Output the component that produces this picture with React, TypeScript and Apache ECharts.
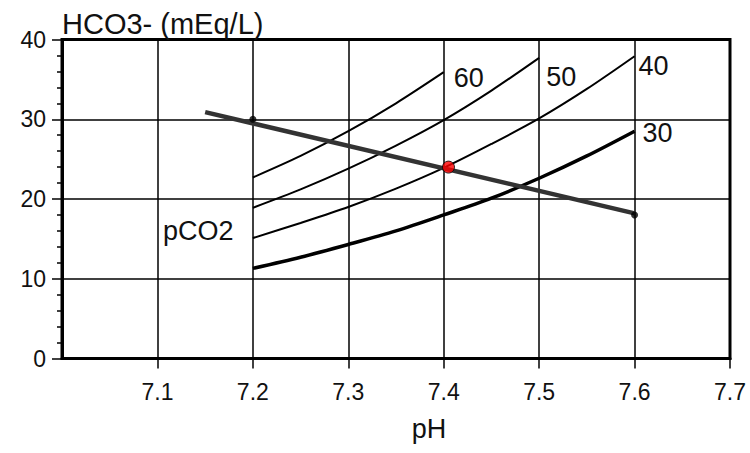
import React, { useEffect, useRef } from "react";
import * as echarts from "echarts";

// pH positions of the pCO2 isopleths
const pHPoints = [7.2, 7.25, 7.3, 7.35, 7.4, 7.45, 7.5, 7.55, 7.6];
// HCO3- (mEq/L) read along each isopleth
const pco2_30 = [11.3, 12.7, 14.3, 16.0, 18.0, 20.1, 22.6, 25.4, 28.5];
const pco2_40 = [15.1, 17.0, 19.0, 21.3, 23.9, 26.9, 30.1, 33.8, 37.9];
const pco2_50 = [18.9, 21.2, 23.8, 26.7, 29.9, 33.6, 37.7];
const pco2_60 = [22.7, 25.4, 28.5, 32.0, 35.9];
const isoLabels = ["30", "40", "50", "60"];

// buffer line
const bufferLine = [
  [7.15, 30.9],
  [7.6, 18.2],
];
const bufferDots = [
  [7.2, 30],
  [7.6, 18],
];
const normalPoint = [[7.405, 24]];

const FONT = "'Liberation Sans', Arial, Helvetica, sans-serif";

function pairs(ys: number[]) {
  return ys.map((y, i) => [pHPoints[i], y]);
}

export default function App() {
  const ref = useRef<HTMLDivElement>(null);
  useEffect(() => {
    if (!ref.current) return;
    const chart = echarts.init(ref.current, null, { renderer: "svg" });
    const endLabel = (text: string, offset: number[]) => ({
      show: true,
      formatter: text,
      distance: 0,
      offset,
      align: "left",
      verticalAlign: "middle",
      fontSize: 27,
      fontFamily: FONT,
      color: "#111",
    });
    const iso = (name: string, ys: number[], width: number, offset: number[]) => ({
      type: "line",
      name,
      data: pairs(ys),
      smooth: 0.3,
      symbol: "none",
      z: 3,
      lineStyle: { color: "#000", width },
      endLabel: endLabel(name, offset),
      silent: true,
    });
    chart.setOption({
      animation: false,
      backgroundColor: "#fff",
      grid: {
        left: 62,
        right: 20,
        top: 39.5,
        bottom: 94.5,
        show: true,
        borderColor: "#000",
        borderWidth: 3,
        backgroundColor: "transparent",
      },
      xAxis: {
        type: "value",
        min: 7.0,
        max: 7.7,
        interval: 0.1,
        axisLine: { show: true, lineStyle: { color: "#000", width: 3 } },
        axisTick: { show: true, length: 10, lineStyle: { color: "#000", width: 1.5 } },
        splitLine: { show: true, lineStyle: { color: "#000", width: 1.5 } },
        axisLabel: {
          showMinLabel: false,
          formatter: (v: number) => v.toFixed(1),
          fontSize: 23,
          fontFamily: FONT,
          color: "#111",
          margin: 22,
        },
      },
      yAxis: {
        type: "value",
        min: 0,
        max: 40,
        interval: 10,
        name: "HCO3- (mEq/L)",
        nameLocation: "end",
        nameGap: 16,
        nameTextStyle: {
          align: "left",
          verticalAlign: "middle",
          fontSize: 29,
          fontFamily: FONT,
          color: "#111",
        },
        axisLine: { show: true, lineStyle: { color: "#000", width: 3 } },
        axisTick: { show: true, length: 10, lineStyle: { color: "#000", width: 1.5 } },
        minorTick: { show: true, splitNumber: 5, length: 5, lineStyle: { color: "#000", width: 1.5 } },
        splitLine: { show: true, lineStyle: { color: "#000", width: 1.5 } },
        axisLabel: {
          fontSize: 23,
          fontFamily: FONT,
          color: "#111",
          margin: 16,
        },
      },
      graphic: [
        {
          type: "text",
          x: 429,
          y: 429,
          style: {
            text: "pH",
            fontSize: 27,
            fontFamily: FONT,
            fill: "#111",
            align: "center",
            verticalAlign: "middle",
          },
        },
        {
          type: "text",
          x: 163,
          y: 231,
          style: {
            text: "pCO2",
            fontSize: 27,
            fontFamily: FONT,
            fill: "#111",
            align: "left",
            verticalAlign: "middle",
          },
        },
      ],
      series: [
        iso(isoLabels[0], pco2_30, 3.5, [8, 2]),
        iso(isoLabels[1], pco2_40, 2, [4, 10]),
        iso(isoLabels[2], pco2_50, 2, [7, 19]),
        iso(isoLabels[3], pco2_60, 2, [10, 6]),
        {
          type: "line",
          data: bufferLine,
          symbol: "none",
          z: 4,
          lineStyle: { color: "#333", width: 4.5 },
          silent: true,
        },
        {
          type: "scatter",
          data: bufferDots,
          symbolSize: 7,
          z: 5,
          itemStyle: { color: "#000" },
          silent: true,
        },
        {
          type: "scatter",
          data: normalPoint,
          symbolSize: 12,
          z: 6,
          itemStyle: { color: "#f00", borderColor: "#000", borderWidth: 1 },
          silent: true,
        },
      ],
    });
    return () => chart.dispose();
  }, []);
  return (
    <div
      ref={ref}
      style={{ position: "fixed", left: 0, top: 0, width: 750, height: 453, background: "#fff" }}
    />
  );
}
